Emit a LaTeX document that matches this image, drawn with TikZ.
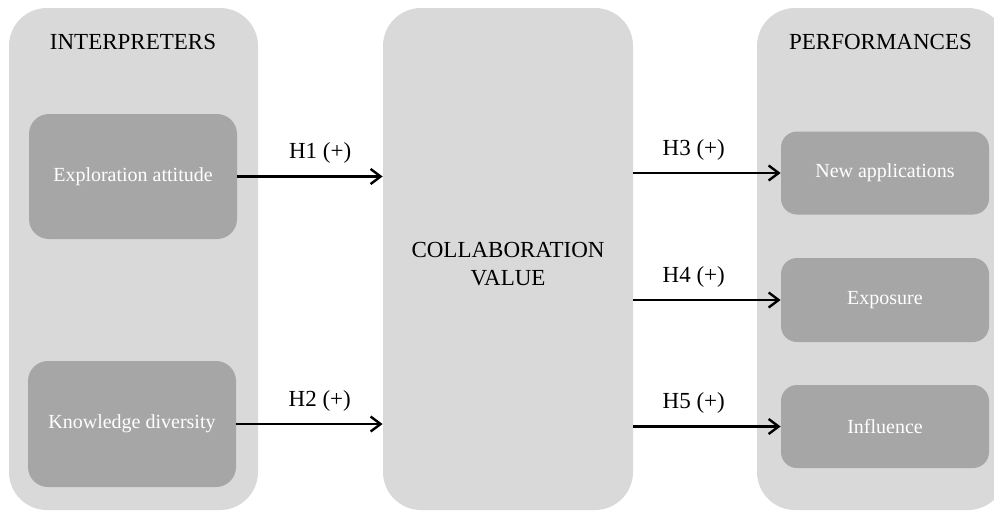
\documentclass[tikz,border=0pt]{standalone}
\usepackage{fontspec}
\setmainfont{Liberation Serif}
\usetikzlibrary{arrows.meta}

\begin{document}
\begin{tikzpicture}[x=0.5pt,y=-0.5pt,
	panel/.style={fill=PanelGrey,rounded corners=19pt,minimum width=124.5pt,minimum height=251pt,inner sep=0pt},
	varbox/.style={fill=BoxGrey,rounded corners=10pt,minimum width=104pt,text=white,inner sep=0pt,font=\fontsize{10}{12}\selectfont},
	head/.style={anchor=base,align=center,font=\fontsize{11.5}{14}\selectfont},
	hyp/.style={line width=1.2pt,-{Straight Barb[length=5pt,width=7.5pt]}},
	hlab/.style={above=2.5pt,font=\fontsize{11.5}{14}\selectfont}]
\colorlet{PanelGrey}{black!15}
\colorlet{BoxGrey}{black!35}
\useasboundingbox (0,0) rectangle (994,511);
\clip (0,0) rectangle (994,511);
%% Three columns
\node[panel] (interp) at (133.5,259) {};
\node[panel,minimum width=125pt] (collab) at (508,259) {};
\node[panel] (perf) at (881.5,259) {};
\node[head] (interpl) at (133,49) {INTERPRETERS};
\node[head] (perfl) at (880.5,49) {PERFORMANCES};
\node[head] (collabl) at (508,285) {COLLABORATION\\VALUE};

%% Interpreters
\node[varbox,minimum height=62.5pt] (explo) at (133,176.5) {Exploration attitude};
\node[varbox,minimum height=63pt] (know) at (132,424) {Knowledge diversity};

%% Performances
\node[varbox,minimum height=41.5pt,rounded corners=8pt] (newapp) at (885,173) {New applications};
\node[varbox,minimum height=42pt,rounded corners=8pt] (expo) at (885,300) {Exposure};
\node[varbox,minimum height=41.5pt,rounded corners=8pt] (infl) at (885,426.5) {Influence};

%% Hypotheses
\draw[hyp] (explo.east) -- node[hlab,pos=0.57] {H1 (+)} (explo.east -| collab.west);
\draw[hyp] (know.east) -- node[hlab,pos=0.57] {H2 (+)} (know.east -| collab.west);
\draw[hyp] (collab.east |- newapp.west) -- node[hlab,pos=0.41] {H3 (+)} (newapp.west);
\draw[hyp] (collab.east |- expo.west) -- node[hlab,pos=0.41] {H4 (+)} (expo.west);
\draw[hyp] (collab.east |- infl.west) -- node[hlab,pos=0.41] {H5 (+)} (infl.west);
\end{tikzpicture}
\end{document}
